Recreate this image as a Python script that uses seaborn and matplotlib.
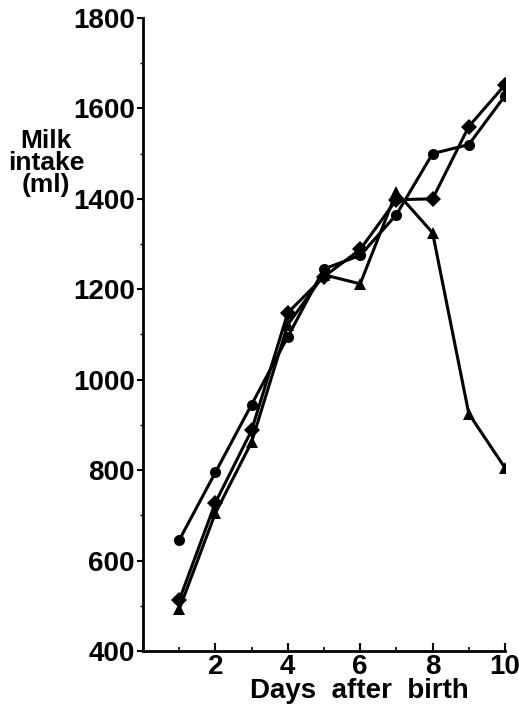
import numpy as np
import pandas as pd
import seaborn as sns
import matplotlib.pyplot as plt
from matplotlib.ticker import MultipleLocator

# Data (milk intake in ml per day after birth)
days = [1, 2, 3, 4, 5, 6, 7, 8, 9, 10]
circle_vals = [645, 795, 945, 1095, 1245, 1275, 1365, 1500, 1520, 1628]
diamond_vals = [512, 728, 888, 1148, 1228, 1288, 1398, 1400, 1560, 1652]
triangle_vals = [492, 705, 862, 1122, 1232, 1212, 1415, 1325, 925, 805]

y_ticks = [400, 600, 800, 1000, 1200, 1400, 1600, 1800]
x_ticks = [2, 4, 6, 8, 10]

df = pd.DataFrame({
    "day": days * 3,
    "intake": circle_vals + diamond_vals + triangle_vals,
    "group": ["circle"] * 10 + ["diamond"] * 10 + ["triangle"] * 10,
})

sns.set_style("ticks")
plt.rcParams["font.family"] = ["Liberation Sans", "DejaVu Sans"]
plt.rcParams["text.color"] = "black"
plt.rcParams["xtick.color"] = "black"
plt.rcParams["ytick.color"] = "black"
plt.rcParams["axes.edgecolor"] = "black"

fig = plt.figure(figsize=(5.19, 7.11), dpi=100)
ax = fig.add_axes([0.2755, 0.0844, 0.6975, 0.8903])

sns.lineplot(
    data=df, x="day", y="intake", style="group",
    markers={"circle": "o", "diamond": "D", "triangle": "^"},
    dashes=False, color="black", linewidth=2.2, markersize=8,
    markeredgewidth=0, legend=False, ax=ax,
)

ax.set_xlim(0, 10)
ax.set_ylim(400, 1800)
ax.set_xticks(x_ticks)
ax.set_yticks(y_ticks)
ax.xaxis.set_minor_locator(MultipleLocator(1))
ax.yaxis.set_minor_locator(MultipleLocator(100))
ax.tick_params(axis="x", which="major", direction="in", length=6, width=1.5,
               labelsize=20, pad=2)
ax.tick_params(axis="x", which="minor", direction="in", length=3, width=1.2)
ax.tick_params(axis="y", which="major", direction="out", length=4, width=1.5,
               labelsize=20, pad=2)
ax.tick_params(axis="y", which="minor", direction="out", length=2, width=1)
for lab in ax.get_xticklabels() + ax.get_yticklabels():
    lab.set_fontweight("bold")

sns.despine(ax=ax)
for side in ["left", "bottom"]:
    ax.spines[side].set_linewidth(2)
ax.set_xlabel("")
ax.set_ylabel("")

fig.text(359 / 519, 1 - 691 / 711, "Days  after  birth", ha="center",
         va="center", fontsize=20, fontweight="bold")
fig.text(46 / 519, 1 - 163 / 711, "Milk\nintake\n(ml)", ha="center",
         va="center", fontsize=19, fontweight="bold", linespacing=0.9)

plt.savefig("out.png", dpi=100)
